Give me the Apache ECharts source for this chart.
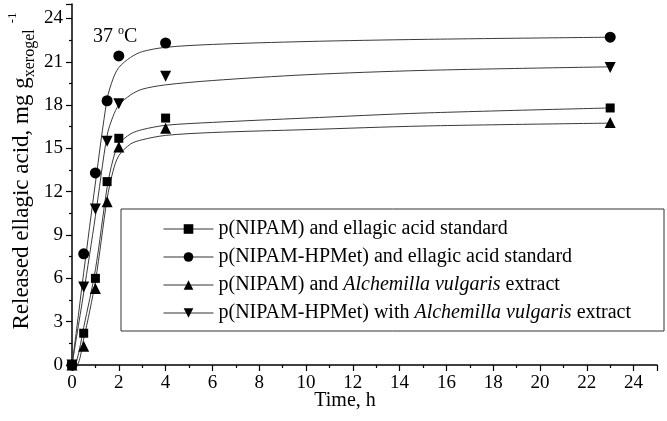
<!DOCTYPE html>
<html>
<head>
<meta charset="utf-8">
<script src="https://cdn.jsdelivr.net/npm/echarts@6/dist/echarts.min.js"></script>
<style>
  html, body { margin: 0; padding: 0; background: #fff; }
  #chart { width: 667px; height: 421px; }
</style>
</head>
<body>
<div id="chart"></div>
<script>
// measured release data (time in hours, mg per g xerogel)
const timeH = [0, 0.5, 1, 1.5, 2, 4, 23];
const nipamStd = [0, 2.2, 6.0, 12.7, 15.7, 17.1, 17.8];
const hpmetStd = [0, 7.7, 13.3, 18.3, 21.4, 22.3, 22.7];
const nipamAv = [0, 1.3, 5.3, 11.3, 15.1, 16.4, 16.8];
const hpmetAv = [0, 5.4, 10.8, 15.5, 18.1, 20.0, 20.6];

// fitted curves
const fitTime = [0, 0.2, 0.5, 1, 1.5, 1.75, 2, 2.5, 3, 4, 6, 10, 15, 23];
const fitNipamStd = [0, 0.3, 2.6, 6.6, 12.3, 14.2, 15.3, 16.0, 16.3, 16.6, 16.8, 17.1, 17.45, 17.8];
const fitHpmetStd = [0, 2.5, 6.4, 12.6, 18.4, 19.8, 20.6, 21.3, 21.7, 22.0, 22.2, 22.4, 22.55, 22.7];
const fitNipamAv = [0, 0, 1.8, 5.8, 11.5, 13.4, 14.5, 15.3, 15.6, 15.9, 16.1, 16.3, 16.55, 16.75];
const fitHpmetAv = [0, 2.0, 5.0, 10.3, 15.9, 17.2, 18.0, 18.7, 19.1, 19.4, 19.7, 20.1, 20.4, 20.65];

const legendNames = [
  'p(NIPAM) and ellagic acid standard',
  'p(NIPAM-HPMet) and ellagic acid standard',
  'p(NIPAM) and Alchemilla vulgaris extract',
  'p(NIPAM-HPMet) with Alchemilla vulgaris extract'
];

const FONT = '"Liberation Serif", "Times New Roman", serif';

const pairs = (xs, ys) => xs.map((x, i) => [x, ys[i]]);

const markerSeries = (name, values, symbol, rotate, size) => ({
  name: name,
  type: 'line',
  data: pairs(timeH, values),
  symbol: symbol,
  symbolRotate: rotate,
  symbolSize: size,
  showSymbol: true,
  color: '#000',
  itemStyle: {color: '#000'},
  lineStyle: {width: 0},
  z: 3
});

const fitSeries = (values) => ({
  type: 'line',
  data: pairs(fitTime, values),
  showSymbol: false,
  smooth: 0.3,
  silent: true,
  lineStyle: {color: '#3a3a3a', width: 1},
  z: 2
});

const chart = echarts.init(document.getElementById('chart'));

chart.setOption({
  animation: false,
  backgroundColor: '#fff',
  textStyle: {fontFamily: FONT},
  grid: {left: 72, right: 10, top: 4, bottom: 56},
  xAxis: {
    type: 'value',
    min: 0,
    max: 25,
    interval: 2,
    axisLine: {lineStyle: {color: '#000', width: 1.5}},
    axisTick: {show: true, length: 6, lineStyle: {color: '#000', width: 1.2}},
    minorTick: {show: true, splitNumber: 2, length: 3, lineStyle: {color: '#000', width: 1.2}},
    splitLine: {show: false},
    axisLabel: {color: '#000', fontSize: 19, fontFamily: FONT, margin: 9,
      formatter: v => (v % 2 === 0 && v <= 24) ? String(v) : ''}
  },
  yAxis: {
    type: 'value',
    min: 0,
    max: 25,
    interval: 3,
    axisLine: {show: true, lineStyle: {color: '#000', width: 1.5}},
    axisTick: {show: true, length: 6, lineStyle: {color: '#000', width: 1.2}},
    minorTick: {show: true, splitNumber: 2, length: 3, lineStyle: {color: '#000', width: 1.2}},
    splitLine: {show: false},
    axisLabel: {color: '#000', fontSize: 19, fontFamily: FONT, margin: 9,
      formatter: v => (v % 3 === 0 && v <= 24) ? String(v) : ''}
  },
  legend: {
    data: legendNames,
    orient: 'vertical',
    left: 163,
    top: 219,
    itemWidth: 50,
    itemHeight: 12,
    itemGap: 8,
    padding: 0,
    selectedMode: false,
    lineStyle: {width: 1, color: '#333'},
    textStyle: {
      color: '#000', fontSize: 20, fontFamily: FONT, lineHeight: 20,
      rich: {
        n: {fontSize: 20, fontFamily: FONT, color: '#000'},
        i: {fontSize: 20, fontFamily: FONT, fontStyle: 'italic', color: '#000'}
      }
    },
    formatter: name => {
      const m = name.match(/^(.*)(Alchemilla vulgaris)(.*)$/);
      if (!m) return '{n|' + name + '}';
      return '{n|' + m[1] + '}{i|' + m[2] + '}{n|' + m[3] + '}';
    }
  },
  graphic: [
    {
      type: 'rect',
      shape: {x: 121, y: 209, width: 543, height: 122},
      style: {fill: 'none', stroke: '#333', lineWidth: 1},
      z: 1
    },
    {
      type: 'text',
      x: 22,
      y: 171,
      rotation: Math.PI / 2,
      style: {
        text: '{m|Released ellagic acid, mg g}{s|xerogel}{p|-1}',
        textAlign: 'center',
        textVerticalAlign: 'middle',
        fill: '#000',
        rich: {
          m: {fontSize: 23, fontFamily: FONT, lineHeight: 32, verticalAlign: 'middle', fill: '#000'},
          s: {fontSize: 16, fontFamily: FONT, lineHeight: 16, verticalAlign: 'bottom', fill: '#000'},
          p: {fontSize: 13, fontFamily: FONT, lineHeight: 13, verticalAlign: 'top', fill: '#000', padding: [0, 0, 0, 6]}
        }
      }
    },
    {
      type: 'text',
      x: 345,
      y: 401,
      style: {
        text: 'Time, h',
        textAlign: 'center',
        textVerticalAlign: 'middle',
        font: '20px ' + FONT,
        fill: '#000'
      }
    },
    {
      type: 'text',
      x: 93,
      y: 37,
      style: {
        text: '{m|37 }{p|o}{m|C}',
        textVerticalAlign: 'middle',
        fill: '#000',
        rich: {
          m: {fontSize: 20, fontFamily: FONT, lineHeight: 24, verticalAlign: 'middle', fill: '#000'},
          p: {fontSize: 12, fontFamily: FONT, lineHeight: 12, verticalAlign: 'top', fill: '#000'}
        }
      }
    }
  ],
  series: [
    fitSeries(fitNipamStd),
    fitSeries(fitHpmetStd),
    fitSeries(fitNipamAv),
    fitSeries(fitHpmetAv),
    markerSeries(legendNames[0], nipamStd, 'rect', 0, 9),
    markerSeries(legendNames[1], hpmetStd, 'circle', 0, 11),
    markerSeries(legendNames[2], nipamAv, 'triangle', 0, 11),
    markerSeries(legendNames[3], hpmetAv, 'triangle', 180, 11)
  ]
});
</script>
</body>
</html>
